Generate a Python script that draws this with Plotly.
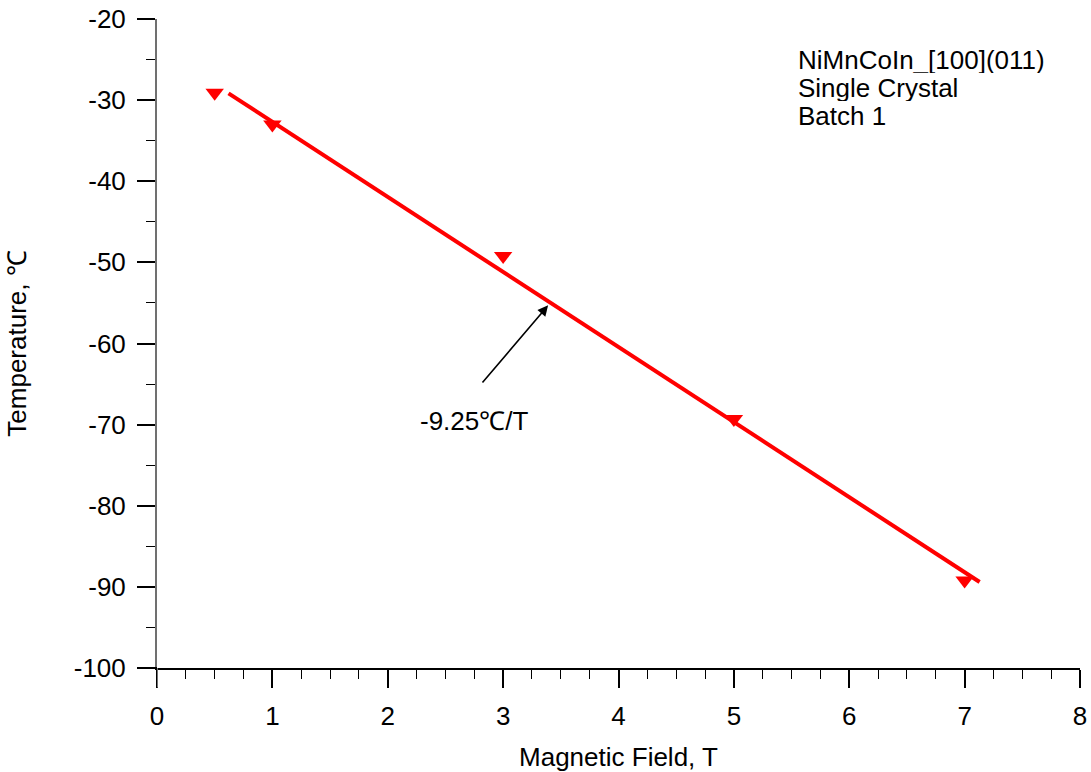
import numpy as np
import plotly.graph_objects as go

# Data
field = [0.5, 1, 3, 5, 7]
temperature = [-29.1, -33.0, -49.2, -69.3, -89.2]
fit_range = [0.62, 7.13]
slope_label = "-9.25℃/T"
info_lines = ["NiMnCoIn_[100](011)", "Single Crystal", "Batch 1"]
info_y = [-25.0, -28.45, -31.9]
x_ticks = [0, 1, 2, 3, 4, 5, 6, 7, 8]
y_ticks = [-20, -30, -40, -50, -60, -70, -80, -90, -100]

coef = np.polyfit(field, temperature, 1)
fit_y = list(np.polyval(coef, fit_range))

FONT = "Liberation Sans, Arial, Helvetica, sans-serif"
FS = 26

fig = go.Figure()
fig.add_trace(go.Scatter(x=fit_range, y=fit_y, mode="lines",
                         line=dict(color="#ff0000", width=4), showlegend=False,
                         hoverinfo="skip"))
fig.add_trace(go.Scatter(x=field, y=temperature, mode="markers",
                         marker=dict(symbol="triangle-down", size=16, color="#ff0000",
                                     line=dict(width=0)),
                         showlegend=False))

# arrow annotation
fig.add_annotation(x=3.39, y=-55.3, ax=2.81, ay=-65.0, xref="x", yref="y",
                   axref="x", ayref="y", showarrow=True, arrowhead=2, arrowsize=1.3,
                   arrowwidth=1.6, arrowcolor="black", text="")
fig.add_annotation(x=2.75, y=-69.6, xref="x", yref="y", text=slope_label,
                   showarrow=False, font=dict(family=FONT, size=FS, color="black"))
for line, yy in zip(info_lines, info_y):
    fig.add_annotation(x=5.55, y=yy, xref="x", yref="y", xanchor="left", yanchor="middle",
                       align="left", text=line, showarrow=False, height=26, borderpad=0,
                       font=dict(family=FONT, size=FS, color="black"))

# axis line extensions (cross style)
fig.add_shape(type="line", xref="x", yref="paper", x0=0, x1=0, y0=-0.03, y1=0,
              line=dict(color="#707070", width=2))
fig.add_shape(type="line", xref="paper", yref="y", x0=-0.0195, x1=0, y0=-100, y1=-100,
              line=dict(color="black", width=2))

fig.update_layout(
    width=1091, height=772,
    margin=dict(l=157, r=11, t=19, b=104, autoexpand=False),
    paper_bgcolor="white", plot_bgcolor="white",
    font=dict(family=FONT, size=FS, color="black"),
    xaxis=dict(range=[0, 8], tickvals=x_ticks, ticktext=[str(v) for v in x_ticks],
               ticks="outside", ticklen=18, automargin=False,
               tickwidth=1.5, tickcolor="black", showline=True, linecolor="black",
               linewidth=2, showgrid=False, zeroline=False,
               minor=dict(dtick=0.25, ticks="outside", ticklen=9, tickcolor="black",
                          tickwidth=1.2, showgrid=False),
               title=dict(text="Magnetic Field, T", standoff=20,
                          font=dict(size=FS)),
               tickfont=dict(size=FS), ticklabelstandoff=6),
    yaxis=dict(range=[-100, -20], tickvals=y_ticks, ticktext=[str(v) for v in y_ticks],
               ticks="outside", ticklen=18, automargin=False,
               tickwidth=1.5, tickcolor="black", showline=True, linecolor="#707070",
               linewidth=2, showgrid=False, zeroline=False,
               minor=dict(dtick=5, ticks="outside", ticklen=9, tickcolor="black",
                          tickwidth=1.2, showgrid=False),
               title=dict(text="Temperature, ℃", standoff=40, font=dict(size=FS)),
               tickfont=dict(size=FS), ticklabelstandoff=6),
)

fig.write_html("out.html")
